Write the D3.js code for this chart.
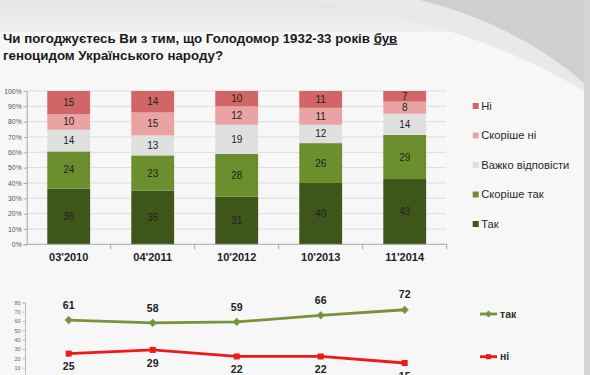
<!DOCTYPE html>
<html>
<head>
<meta charset="utf-8">
<script src="https://cdn.jsdelivr.net/npm/d3@7"></script>
<style>
  body { margin: 0; background: #f7f7f7; }
  svg { display: block; font-family: "Liberation Sans", Arial, sans-serif; }
</style>
</head>
<body>
<div class="chart"></div>
<script>
/* Data
============================================= */
const PERIODS = ["03'2010", "04'2011", "10'2012", "10'2013", "11'2014"];

const SERIES_NAMES = ["Так", "Скоріше так", "Важко відповісти", "Скоріше ні", "Ні"];
const TAK          = [36, 35, 31, 40, 43];
const SKORISHE_TAK = [24, 23, 28, 26, 29];
const VAZHKO       = [14, 13, 19, 12, 14];
const SKORISHE_NI  = [10, 15, 12, 11, 8];
const NI           = [15, 14, 10, 11, 7];

const LINE_NAMES = ["так", "ні"];
const LINE_TAK   = [61, 58, 59, 66, 72];
const LINE_NI    = [25, 29, 22, 22, 15];

const PCT_TICKS  = [0, 10, 20, 30, 40, 50, 60, 70, 80, 90, 100];
const LINE_TICKS = [10, 20, 30, 40, 50, 60, 70, 80];

const COLORS = {
    "Так": "#3f561b",
    "Скоріше так": "#6c8f2e",
    "Важко відповісти": "#e0e0e0",
    "Скоріше ні": "#e9a3a3",
    "Ні": "#d26666"
};

/* Setup
============================================= */
const SVG_WIDTH = 590;
const SVG_HEIGHT = 375;

var svg = d3.select(".chart")
    .append("svg")
    .attr("width", SVG_WIDTH)
    .attr("height", SVG_HEIGHT);

var defs = svg.append("defs");
var topGrad = defs.append("linearGradient")
    .attr("id", "topGrad")
    .attr("x1", 0).attr("x2", 0).attr("y1", 0).attr("y2", 1);
topGrad.append("stop").attr("offset", "0%").attr("stop-color", "#e4e4e4");
topGrad.append("stop").attr("offset", "100%").attr("stop-color", "#efefef");

// background
svg.append("rect")
    .attr("width", SVG_WIDTH).attr("height", SVG_HEIGHT)
    .attr("fill", "#f7f7f7");
svg.append("rect")
    .attr("width", SVG_WIDTH).attr("height", 32)
    .attr("fill", "url(#topGrad)");
svg.append("path")
    .attr("d", "M300,0 Q470,20 590,95 L590,0 Z")
    .attr("fill", "#e9e9e9");
svg.append("path")
    .attr("d", "M420,0 Q520,25 590,88 L590,0 Z")
    .attr("fill", "#cfcfcf");
svg.append("rect")
    .attr("x", 584).attr("width", 6).attr("height", SVG_HEIGHT)
    .attr("fill", "#d4d4d4");

// title
var title = svg.append("text")
    .attr("font-size", 13.3)
    .attr("font-weight", "bold")
    .attr("fill", "#1a1a1a");
title.append("tspan").attr("x", 3).attr("y", 42.5)
    .text("Чи погоджуєтесь Ви з тим, що Голодомор 1932-33 років ");
title.append("tspan").attr("text-decoration", "underline").text("був");
title.append("tspan").attr("x", 3).attr("y", 59.5)
    .text("геноцидом Українського народу?");

/* Stacked bar chart (100% stacked)
============================================= */
var rows = PERIODS.map(function(p, i) {
    return {
        period: p,
        "Так": TAK[i],
        "Скоріше так": SKORISHE_TAK[i],
        "Важко відповісти": VAZHKO[i],
        "Скоріше ні": SKORISHE_NI[i],
        "Ні": NI[i]
    };
});

var xBand = d3.scaleBand()
    .domain(PERIODS)
    .range([26.7, 446.7])
    .paddingInner(0.49)
    .paddingOuter(0.245);

var yPct = d3.scaleLinear().domain([0, 100]).range([244.3, 91]);
var yFrac = d3.scaleLinear().domain([0, 1]).range([244.3, 91]);

var barChart = svg.append("g");

// gridlines
barChart.selectAll(".grid")
    .data(PCT_TICKS.slice(1))
    .enter()
    .append("line")
    .attr("x1", 26.7).attr("x2", 446)
    .attr("y1", function(d) { return yPct(d); })
    .attr("y2", function(d) { return yPct(d); })
    .attr("stroke", "#dcdcdc")
    .attr("stroke-width", 1);

var leftAxis = d3.axisLeft(yPct)
    .tickValues(PCT_TICKS)
    .tickFormat(function(d) { return d + "%"; })
    .tickSize(3)
    .tickPadding(2);

var yAxis = barChart.append("g")
    .attr("transform", "translate(26.7,0)")
    .call(leftAxis);
yAxis.select(".domain").attr("stroke", "#a6a6a6");
yAxis.selectAll(".tick line").attr("stroke", "#a6a6a6");
yAxis.selectAll("text")
    .attr("font-size", 6.8)
    .attr("fill", "#555")
    .attr("font-family", "Liberation Sans, Arial, sans-serif");

var stack = d3.stack().keys(SERIES_NAMES).offset(d3.stackOffsetExpand);
var layers = stack(rows);

var layerGroups = barChart.selectAll(".layer")
    .data(layers)
    .enter()
    .append("g")
    .attr("fill", function(d) { return COLORS[d.key]; });

layerGroups.selectAll("rect")
    .data(function(d) { return d; })
    .enter()
    .append("rect")
    .attr("x", function(d) { return xBand(d.data.period); })
    .attr("y", function(d) { return yFrac(d[1]); })
    .attr("width", xBand.bandwidth())
    .attr("height", function(d) { return yFrac(d[0]) - yFrac(d[1]); });

layerGroups.selectAll("text")
    .data(function(d) { return d.map(function(seg) { return { seg: seg, key: d.key }; }); })
    .enter()
    .append("text")
    .attr("x", function(d) { return xBand(d.seg.data.period) + xBand.bandwidth() / 2; })
    .attr("y", function(d) { return (yFrac(d.seg[0]) + yFrac(d.seg[1])) / 2; })
    .attr("dy", "0.35em")
    .attr("text-anchor", "middle")
    .attr("font-size", 10)
    .attr("fill", "#222")
    .text(function(d) { return d.seg.data[d.key]; });

// x axis
var xAxisLine = barChart.append("g");
xAxisLine.append("line")
    .attr("x1", 26.7).attr("x2", 446.7)
    .attr("y1", 244.3).attr("y2", 244.3)
    .attr("stroke", "#a6a6a6");
xAxisLine.selectAll(".sep")
    .data(PERIODS)
    .enter()
    .append("line")
    .attr("x1", function(d) { return xBand(d) - xBand.step() * xBand.paddingInner() / 2 + xBand.step(); })
    .attr("x2", function(d) { return xBand(d) - xBand.step() * xBand.paddingInner() / 2 + xBand.step(); })
    .attr("y1", 244.3).attr("y2", 249)
    .attr("stroke", "#a6a6a6");
xAxisLine.selectAll(".lbl")
    .data(PERIODS)
    .enter()
    .append("text")
    .attr("x", function(d) { return xBand(d) + xBand.bandwidth() / 2; })
    .attr("y", 261)
    .attr("text-anchor", "middle")
    .attr("font-size", 11)
    .attr("font-weight", "bold")
    .attr("fill", "#222")
    .text(function(d) { return d; });

// legend
var legendOrder = SERIES_NAMES.slice().reverse();
var legend = svg.append("g").selectAll("g")
    .data(legendOrder)
    .enter()
    .append("g")
    .attr("transform", function(d, i) { return "translate(472.7," + (106 + i * 29.5) + ")"; });
legend.append("rect")
    .attr("y", -3).attr("width", 6).attr("height", 6)
    .attr("fill", function(d) { return COLORS[d]; });
legend.append("text")
    .attr("x", 8.5)
    .attr("dy", "0.35em")
    .attr("font-size", 11.2)
    .attr("fill", "#2a2a2a")
    .text(function(d) { return d; });

/* Line chart
============================================= */
var xCenter = function(p) { return xBand(p) + xBand.bandwidth() / 2; };
var yLine = d3.scaleLinear().domain([0, 80]).range([377, 302.3]);

var lineChart = svg.append("g");

var lineAxis = d3.axisLeft(yLine)
    .tickValues(LINE_TICKS)
    .tickSize(2.5)
    .tickPadding(2);
var lAxis = lineChart.append("g")
    .attr("transform", "translate(25,0)")
    .call(lineAxis);
lAxis.select(".domain").attr("stroke", "#bbb");
lAxis.selectAll(".tick line").attr("stroke", "#bbb");
lAxis.selectAll("text")
    .attr("font-size", 5.5)
    .attr("fill", "#666")
    .attr("font-family", "Liberation Sans, Arial, sans-serif");

// diamond = square turned 45 degrees
var lineSeries = [
    { name: LINE_NAMES[0], values: LINE_TAK, color: "#77933c", size: 34, rotate: 45, above: true },
    { name: LINE_NAMES[1], values: LINE_NI,  color: "#f01818", size: 36, rotate: 0,  above: false }
];

var line = d3.line()
    .x(function(d, i) { return xCenter(PERIODS[i]); })
    .y(function(d) { return yLine(d); });

lineSeries.forEach(function(s) {
    lineChart.append("path")
        .datum(s.values)
        .attr("fill", "none")
        .attr("stroke", s.color)
        .attr("stroke-width", 2.8)
        .attr("d", line);

    lineChart.selectAll(null)
        .data(s.values)
        .enter()
        .append("path")
        .attr("transform", function(d, i) {
            return "translate(" + xCenter(PERIODS[i]) + "," + yLine(d) + ") rotate(" + s.rotate + ")";
        })
        .attr("d", d3.symbol().type(d3.symbolSquare).size(s.size))
        .attr("fill", s.color);

    lineChart.selectAll(null)
        .data(s.values)
        .enter()
        .append("text")
        .attr("x", function(d, i) { return xCenter(PERIODS[i]); })
        .attr("y", function(d) { return s.above ? yLine(d) - 15 : yLine(d) + 13; })
        .attr("dy", "0.35em")
        .attr("text-anchor", "middle")
        .attr("font-size", 10.5)
        .attr("font-weight", "bold")
        .attr("fill", "#222")
        .text(function(d) { return d; });
});

// line legend
var lineLegend = svg.append("g").selectAll("g")
    .data(lineSeries)
    .enter()
    .append("g")
    .attr("transform", function(d, i) { return "translate(480," + (314 + i * 42.7) + ")"; });
lineLegend.append("line")
    .attr("x1", 0).attr("x2", 17)
    .attr("stroke", function(d) { return d.color; })
    .attr("stroke-width", 2.8);
lineLegend.append("path")
    .attr("transform", function(d) { return "translate(8.5,0) rotate(" + d.rotate + ")"; })
    .attr("d", function(d) { return d3.symbol().type(d3.symbolSquare).size(d.size * 0.7)(); })
    .attr("fill", function(d) { return d.color; });
lineLegend.append("text")
    .attr("x", 20)
    .attr("dy", "0.35em")
    .attr("font-size", 10.5)
    .attr("font-weight", "bold")
    .attr("fill", "#333")
    .text(function(d) { return d.name; });
</script>
</body>
</html>
